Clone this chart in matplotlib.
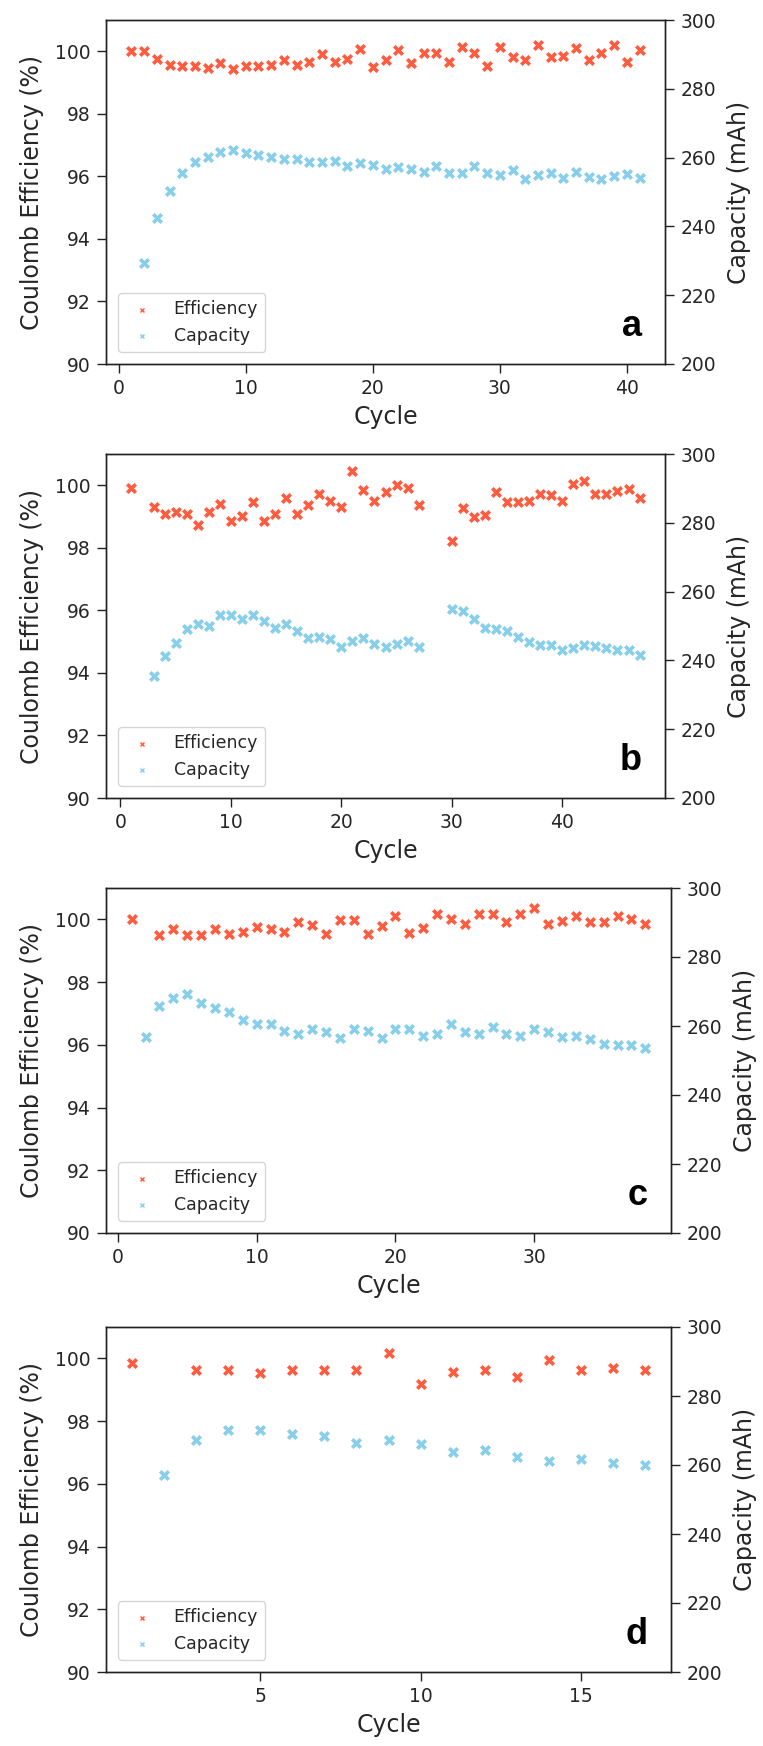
import matplotlib
matplotlib.use("Agg")
import matplotlib.pyplot as plt

# ---------------- data ----------------
eff_a_cycles = list(range(1, 42))
eff_a = [100.0, 100.0, 99.76, 99.57, 99.52, 99.52, 99.47, 99.63, 99.44, 99.52,
         99.52, 99.57, 99.71, 99.57, 99.66, 99.92, 99.66, 99.76, 100.07, 99.49,
         99.71, 100.05, 99.63, 99.95, 99.95, 99.66, 100.13, 99.95, 99.52, 100.13,
         99.81, 99.71, 100.19, 99.81, 99.84, 100.09, 99.71, 99.95, 100.19, 99.66, 100.03]
cap_a_cycles = list(range(2, 42))
cap_a = [229.4, 242.4, 250.4, 255.4, 258.8, 260.2, 261.7, 262.2, 261.2,
         260.8, 260.1, 259.6, 259.6, 258.8, 258.8, 259.1, 257.6, 258.3, 257.8,
         256.6, 257.2, 256.7, 255.7, 257.6, 255.4, 255.4, 257.6, 255.4, 254.9,
         256.4, 253.7, 254.9, 255.4, 254.0, 255.7, 254.5, 253.7, 254.7, 255.1, 254.2]

eff_b_cycles = [1] + list(range(3, 28)) + list(range(30, 48))
eff_b = [99.92, 99.32, 99.09, 99.14, 99.09, 98.72, 99.14, 99.41, 98.85, 99.03,
         99.46, 98.85, 99.09, 99.60, 99.09, 99.36, 99.72, 99.49, 99.31, 100.47,
         99.86, 99.49, 99.78, 100.0, 99.92, 99.36,
         98.21, 99.28, 98.99, 99.04, 99.78, 99.46, 99.46, 99.49, 99.72, 99.68,
         99.49, 100.05, 100.15, 99.72, 99.72, 99.81, 99.88, 99.60]
cap_b_cycles = list(range(3, 28)) + list(range(30, 48))
cap_b = [235.5, 241.3, 245.1, 249.0, 250.5, 250.1, 253.2, 253.2, 251.9, 253.2,
         251.4, 249.3, 250.5, 248.5, 246.4, 246.9, 246.1, 243.9, 245.6, 246.4,
         244.7, 243.9, 244.7, 245.6, 243.9,
         254.8, 254.4, 251.9, 249.5, 249.0, 248.5, 246.7, 245.4, 244.6, 244.6,
         243.0, 243.5, 244.6, 244.2, 243.5, 243.0, 243.0, 241.7]

eff_c_cycles = [1] + list(range(3, 39))
eff_c = [100.0, 99.49, 99.68, 99.49, 99.49, 99.68, 99.54, 99.60, 99.76, 99.68,
         99.60, 99.92, 99.81, 99.54, 99.97, 99.97, 99.54, 99.78, 100.10, 99.58,
         99.72, 100.18, 100.0, 99.86, 100.18, 100.18, 99.92, 100.18, 100.37, 99.86,
         99.95, 100.10, 99.92, 99.92, 100.10, 100.0, 99.86]
cap_c_cycles = list(range(2, 39))
cap_c = [256.7, 265.9, 268.2, 269.3, 266.7, 265.1, 264.1, 261.7, 260.5, 260.5,
         258.6, 257.8, 259.1, 258.3, 256.6, 259.1, 258.6, 256.6, 259.1, 259.1,
         257.1, 257.8, 260.5, 258.3, 257.6, 259.8, 257.8, 257.1, 259.1, 258.3,
         256.9, 257.1, 256.1, 254.9, 254.4, 254.4, 253.5]

eff_d_cycles = [1] + list(range(3, 18))
eff_d = [99.84, 99.62, 99.62, 99.52, 99.62, 99.62, 99.62, 100.18, 99.19, 99.56,
         99.62, 99.41, 99.95, 99.62, 99.70, 99.62]
cap_d_cycles = list(range(2, 18))
cap_d = [257.1, 267.2, 270.1, 270.1, 268.9, 268.5, 266.3, 267.2, 266.0, 263.8,
         264.3, 262.2, 261.2, 261.7, 260.5, 259.9]

xticks_a = [0, 10, 20, 30, 40]
xticks_b = [0, 10, 20, 30, 40]
xticks_c = [0, 10, 20, 30]
xticks_d = [5, 10, 15]
left_ticks = [90, 92, 94, 96, 98, 100]
right_ticks = [200, 220, 240, 260, 280, 300]
letters = ["a", "b", "c", "d"]

panels = [
    (eff_a_cycles, eff_a, cap_a_cycles, cap_a, xticks_a),
    (eff_b_cycles, eff_b, cap_b_cycles, cap_b, xticks_b),
    (eff_c_cycles, eff_c, cap_c_cycles, cap_c, xticks_c),
    (eff_d_cycles, eff_d, cap_d_cycles, cap_d, xticks_d),
]

# ---------------- layout ----------------
W, H = 763, 1746
boxes = [(106, 20, 665, 364), (106, 454, 665, 798),
         (106, 888, 671, 1233), (106, 1327, 671, 1672)]

RED = "#ff5b3f"
BLUE = "#87ceeb"
TXT = "#262626"
SP = "#222222"

fig = plt.figure(figsize=(W / 100, H / 100), dpi=100)

for (ec, ev, cc, cv, xt), (l, t, r, b), letter in zip(panels, boxes, letters):
    ax = fig.add_axes([l / W, 1 - b / H, (r - l) / W, (b - t) / H])
    ax2 = ax.twinx()
    h1 = ax.scatter(ec, ev, marker="X", s=72, color=RED, edgecolors="white",
                    linewidths=0.4, label="Efficiency", zorder=3)
    h2 = ax2.scatter(cc, cv, marker="X", s=72, color=BLUE, edgecolors="white",
                     linewidths=0.4, label="Capacity", zorder=3)
    ax.set_ylim(90, 101)
    ax2.set_ylim(200, 300)
    ax.set_yticks(left_ticks)
    ax2.set_yticks(right_ticks)
    ax.set_xticks(xt)
    ax.set_xlabel("Cycle", fontsize=17, color=TXT, labelpad=5)
    ax.set_ylabel("Coulomb Efficiency (%)", fontsize=17, color=TXT, labelpad=8)
    ax2.set_ylabel("Capacity (mAh)", fontsize=17, color=TXT, labelpad=8)
    for a in (ax, ax2):
        a.tick_params(length=6.5, width=1.0, labelsize=13.5, pad=4.5,
                      colors=TXT, color=SP)
        for s in a.spines.values():
            s.set_color(SP)
            s.set_linewidth(1.0)
    leg = ax2.legend([h1, h2], ["Efficiency", "Capacity"], loc="lower left",
                     fontsize=12.5, markerscale=0.5, borderaxespad=0.7,
                     framealpha=0.8, edgecolor="0.8")
    for txt in leg.get_texts():
        txt.set_color(TXT)
    ax2.text(0.959, 0.081, letter, transform=ax2.transAxes, ha="right",
             va="baseline", fontsize=26, fontweight="bold",
             family=["Liberation Sans", "DejaVu Sans"], color="black")

fig.savefig("out.png", dpi=100)
